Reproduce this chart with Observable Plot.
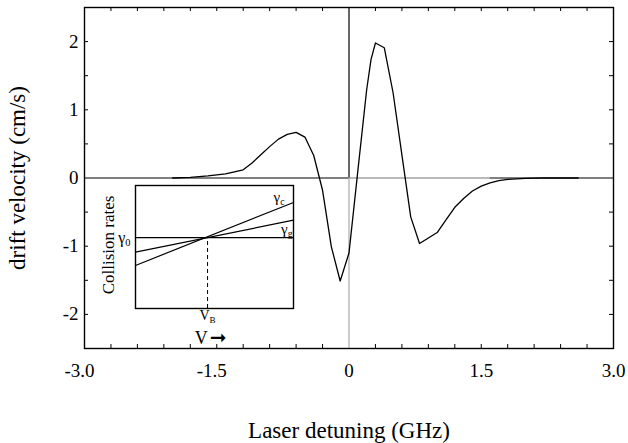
<!DOCTYPE html>
<html>
<head>
<meta charset="utf-8">
<script src="https://cdn.jsdelivr.net/npm/d3@7"></script>
<script src="https://cdn.jsdelivr.net/npm/@observablehq/plot@0.6"></script>
<style>
  html, body { margin: 0; padding: 0; background: white; }
  #chart { position: relative; width: 628px; height: 443px; }
  #chart svg, #chart svg text { font-family: "Liberation Serif", "Times New Roman", "DejaVu Serif", serif; }
</style>
</head>
<body>
<div id="chart"></div>
<script>
// ---- main curve data ----
const detuning = [-2.0, -1.8, -1.6, -1.4, -1.2, -1.1, -1.0, -0.9, -0.8, -0.7, -0.6, -0.5, -0.4, -0.3, -0.2, -0.1, 0.0, 0.1, 0.2, 0.25, 0.3, 0.4, 0.5, 0.6, 0.7, 0.8, 0.9, 1.0, 1.1, 1.2, 1.3, 1.4, 1.5, 1.6, 1.7, 1.8, 2.0, 2.2, 2.4, 2.6];
const drift    = [0.0, 0.01, 0.03, 0.06, 0.12, 0.22, 0.34, 0.46, 0.57, 0.64, 0.67, 0.60, 0.33, -0.18, -1.01, -1.51, -1.10, 0.10, 1.29, 1.74, 1.98, 1.91, 1.25, 0.34, -0.57, -0.96, -0.88, -0.80, -0.615, -0.43, -0.30, -0.19, -0.12, -0.07, -0.04, -0.02, -0.005, 0.0, 0.0, 0.0];

// ---- axes ----
const xTicks = [-3, -1.5, 0, 1.5, 3];
const yTicks = [-2, -1, 0, 1, 2];
const xMinor = [-2.7, -2.4, -2.1, -1.8, -1.5, -1.2, -0.9, -0.6, -0.3, 0.3, 0.6, 0.9, 1.2, 1.5, 1.8, 2.1, 2.4, 2.7];
const yMinor = [-2, -1.5, -1, -0.5, 0.5, 1, 1.5, 2];
const xLabel = "Laser detuning (GHz)";
const yLabel = "drift velocity (cm/s)";

// ---- inset data (schematic) ----
const insetV = [0, 1];
const gammaC = [0.35, 0.862];
const gammaG = [0.458, 0.718];
const gamma0 = 0.577;
const vB = 0.456;
const insetYLabel = "Collision rates";

const SERIF = "Liberation Serif";
const W = 628, H = 443, mL = 84, mR = 15, mT = 7, mB = 95;
const xDom = [-3, 3], yDom = [-2.5, 2.5];
const tickPx = 4;
const tY = tickPx * (yDom[1] - yDom[0]) / (H - mT - mB);
const tX = tickPx * (xDom[1] - xDom[0]) / (W - mL - mR);
const fmt = d => d === 0 ? "0" : d.toFixed(1);
const curve = detuning.map((x, i) => ({x, y: drift[i]}));

const main = Plot.plot({
  width: W, height: H,
  marginLeft: mL, marginRight: mR, marginTop: mT, marginBottom: mB,
  style: "font-family: 'Liberation Serif', serif; background: white; color: black;",
  x: {domain: xDom},
  y: {domain: yDom},
  marks: [
    Plot.ruleY([0], {x1: -3, x2: 0, stroke: "black", strokeWidth: 1.2}),
    Plot.ruleY([0], {x1: 0, x2: 1.6, stroke: "#777", strokeWidth: 1.2}),
    Plot.ruleY([0], {x1: 1.6, x2: 3, stroke: "black", strokeWidth: 1.2}),
    Plot.ruleX([0], {y1: 0, y2: 2.5, stroke: "black", strokeWidth: 1.2}),
    Plot.ruleX([0], {y1: -2.5, y2: 0, stroke: "#999", strokeWidth: 1}),
    // inward minor ticks
    Plot.ruleX(xMinor, {y1: yDom[0], y2: yDom[0] + tY, stroke: "black"}),
    Plot.ruleX(xMinor, {y1: yDom[1], y2: yDom[1] - tY, stroke: "black"}),
    Plot.ruleY(yMinor, {x1: xDom[0], x2: xDom[0] + tX, stroke: "black"}),
    Plot.ruleY(yMinor, {x1: xDom[1], x2: xDom[1] - tX, stroke: "black"}),
    Plot.line(curve, {x: "x", y: "y", stroke: "black", strokeWidth: 1.3}),
    Plot.frame({stroke: "black", strokeWidth: 1.4}),
    Plot.axisX(xTicks.filter(d => d >= 0), {tickSize: 0, tickPadding: 15, tickFormat: fmt, fontSize: 19, fontFamily: SERIF, label: null}),
    Plot.axisX(xTicks.filter(d => d < 0), {tickSize: 0, tickPadding: 15, tickFormat: fmt, fontSize: 19, fontFamily: SERIF, dx: -5, label: null}),
    Plot.axisY(yTicks, {tickSize: 0, tickPadding: 6, tickFormat: d => String(d), fontSize: 19, fontFamily: SERIF, label: null}),
    Plot.text([xLabel], {frameAnchor: "bottom", dy: 82, lineAnchor: "middle", textAnchor: "middle", fontSize: 23, fontFamily: SERIF, fill: "black"}),
    Plot.text([yLabel], {frameAnchor: "left", rotate: -90, dx: -67, lineAnchor: "middle", textAnchor: "middle", fontSize: 23, fontFamily: SERIF, fill: "black"})
  ]
});

const insetLabels = [
  {name: "γc", v: insetV[1], r: gammaC[1]},
  {name: "γg", v: insetV[1], r: gammaG[1]}
];

const inset = Plot.plot({
  width: 205, height: 165,
  marginLeft: 40, marginRight: 7, marginTop: 5, marginBottom: 37,
  style: "font-family: 'Liberation Serif', serif; background: transparent; position: absolute; left: 95px; top: 180px; overflow: visible;",
  x: {domain: [0, 1], axis: null},
  y: {domain: [0, 1], axis: null},
  marks: [
    Plot.ruleY([gamma0], {stroke: "black", strokeWidth: 1.2}),
    Plot.line(insetV.map((v, i) => ({v, r: gammaC[i]})), {x: "v", y: "r", stroke: "black", strokeWidth: 1.2}),
    Plot.line(insetV.map((v, i) => ({v, r: gammaG[i]})), {x: "v", y: "r", stroke: "black", strokeWidth: 1.2}),
    Plot.ruleX([vB], {y1: 0, y2: gamma0, stroke: "black", strokeDasharray: "4,3"}),
    Plot.frame({stroke: "black", strokeWidth: 1.4}),
    Plot.text(insetLabels.slice(0, 1), {x: "v", y: "r", text: "name", textAnchor: "end", dx: -9, dy: -5, fontSize: 15, fontFamily: SERIF, fill: "black"}),
    Plot.text(insetLabels.slice(1), {x: "v", y: "r", text: "name", textAnchor: "end", dx: -1, dy: 9, fontSize: 15, fontFamily: SERIF, fill: "black"}),
    Plot.text([gamma0], {y: d => d, frameAnchor: "left", text: () => "γ0", textAnchor: "end", dx: -5, lineAnchor: "middle", fontSize: 16, fontFamily: SERIF, fill: "black"}),
    Plot.text([vB], {x: d => d, frameAnchor: "bottom", text: () => "VB", lineAnchor: "top", textAnchor: "middle", dy: 2, fontSize: 14, fontFamily: SERIF, fill: "black"}),
    Plot.text(["V→"], {frameAnchor: "bottom", lineAnchor: "middle", textAnchor: "middle", dy: 30, dx: -4, fontSize: 18, fontFamily: SERIF, fill: "black"}),
    Plot.text([insetYLabel], {frameAnchor: "left", rotate: -90, dx: -27, dy: -2, lineAnchor: "middle", textAnchor: "middle", fontSize: 17, fontFamily: SERIF, fill: "black"})
  ]
});

// subscripts & arrow styling
d3.select(inset).selectAll("text").each(function () {
  const t = this.textContent;
  const sub = {"γc": ["γ", "c"], "γg": ["γ", "g"], "γ0": ["γ", "0"], "VB": ["V", "B"]}[t];
  const sel = d3.select(this);
  if (sub) {
    sel.text(null);
    sel.append("tspan").text(sub[0]);
    sel.append("tspan").attr("font-size", "65%").attr("dy", "0.3em").text(sub[1]);
  } else if (t === "V→") {
    sel.text(null);
    sel.append("tspan").text("V");
    sel.append("tspan").attr("style", "font-family: 'DejaVu Sans'; font-size: 20px").attr("dx", "2").text("➞");
  }
});

const box = document.getElementById("chart");
box.appendChild(main);
box.appendChild(inset);
</script>
</body>
</html>
